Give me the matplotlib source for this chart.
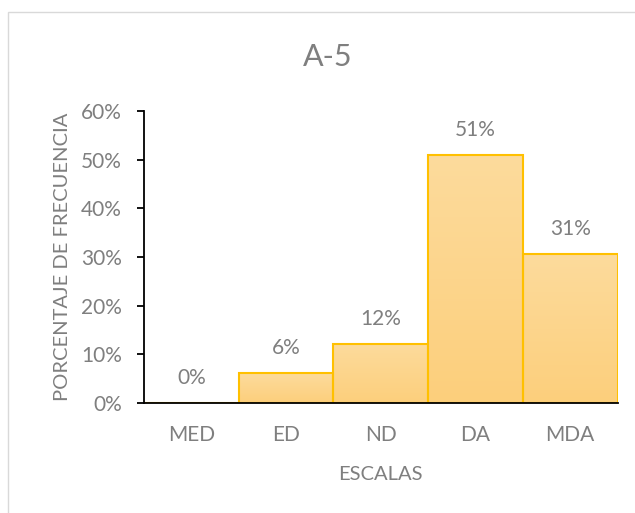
import numpy as np
import matplotlib
matplotlib.use("Agg")
import matplotlib.pyplot as plt
from matplotlib.patches import Rectangle
from matplotlib.colors import LinearSegmentedColormap

plt.rcParams['font.family'] = ['Lato', 'DejaVu Sans']

categories = ['MED', 'ED', 'ND', 'DA', 'MDA']
percent = [0.0, 6.1, 12.2, 51.0, 30.6]
yticks = [0, 10, 20, 30, 40, 50, 60]

title = 'A-5'
xlabel = 'ESCALAS'
ylabel = 'PORCENTAJE DE FRECUENCIA'

gray = '#7f7f7f'
edge = '#ffc000'
grad = LinearSegmentedColormap.from_list('bar', ['#fccf7c', '#fddb9c'])

fig = plt.figure(figsize=(6.35, 5.13), dpi=100)
fig.patches.append(Rectangle((8 / 635, -0.05), 1.0, 0.05 + (513 - 12) / 513,
                             transform=fig.transFigure, fill=False,
                             edgecolor='#d9d9d9', lw=1.0))
ax = fig.add_axes([144 / 635, 110 / 513, 473.5 / 635, 292 / 513])

x = np.arange(len(categories))
bars = ax.bar(x, percent, width=1.0, color='none', edgecolor=edge, lw=1.5, zorder=3)

# vertical gradient inside every bar
for b in bars:
    h = b.get_height()
    if h <= 0:
        continue
    x0 = b.get_x()
    img = ax.imshow(np.linspace(0, 1, 100).reshape(-1, 1), cmap=grad, aspect='auto',
                    extent=[x0, x0 + b.get_width(), 0, h], origin='lower', zorder=2)
    img.set_clip_path(b)

for xi, v in zip(x, percent):
    ax.annotate(f'{v:.0f}%', (xi, v), xytext=(0, 18), textcoords='offset points',
                ha='center', va='center', fontsize=15, color=gray)

ax.set_xlim(-0.5, len(categories) - 0.5)
ax.set_ylim(0, 60)
ax.set_yticks(yticks)
ax.set_yticklabels([f'{t}%' for t in yticks], fontsize=15, color=gray)
ax.set_xticks(x)
ax.set_xticklabels(categories, fontsize=15, color=gray)
ax.tick_params(axis='x', length=0, pad=16)
ax.tick_params(axis='y', length=5, width=1.3, direction='out', pad=11, color='black')

for s in ['top', 'right']:
    ax.spines[s].set_visible(False)
ax.spines['left'].set_linewidth(1.3)
ax.spines['bottom'].set_linewidth(1.3)
ax.spines['left'].set_zorder(4)
ax.spines['bottom'].set_zorder(4)

ax.set_xlabel(xlabel, fontsize=14.5, color=gray, labelpad=15)
ax.set_ylabel(ylabel, fontsize=14.5, color=gray, labelpad=7)
fig.text(328 / 635, 1 - 57 / 513, title, ha='center', va='center', fontsize=22, color=gray)

fig.savefig('out.png', dpi=100)
